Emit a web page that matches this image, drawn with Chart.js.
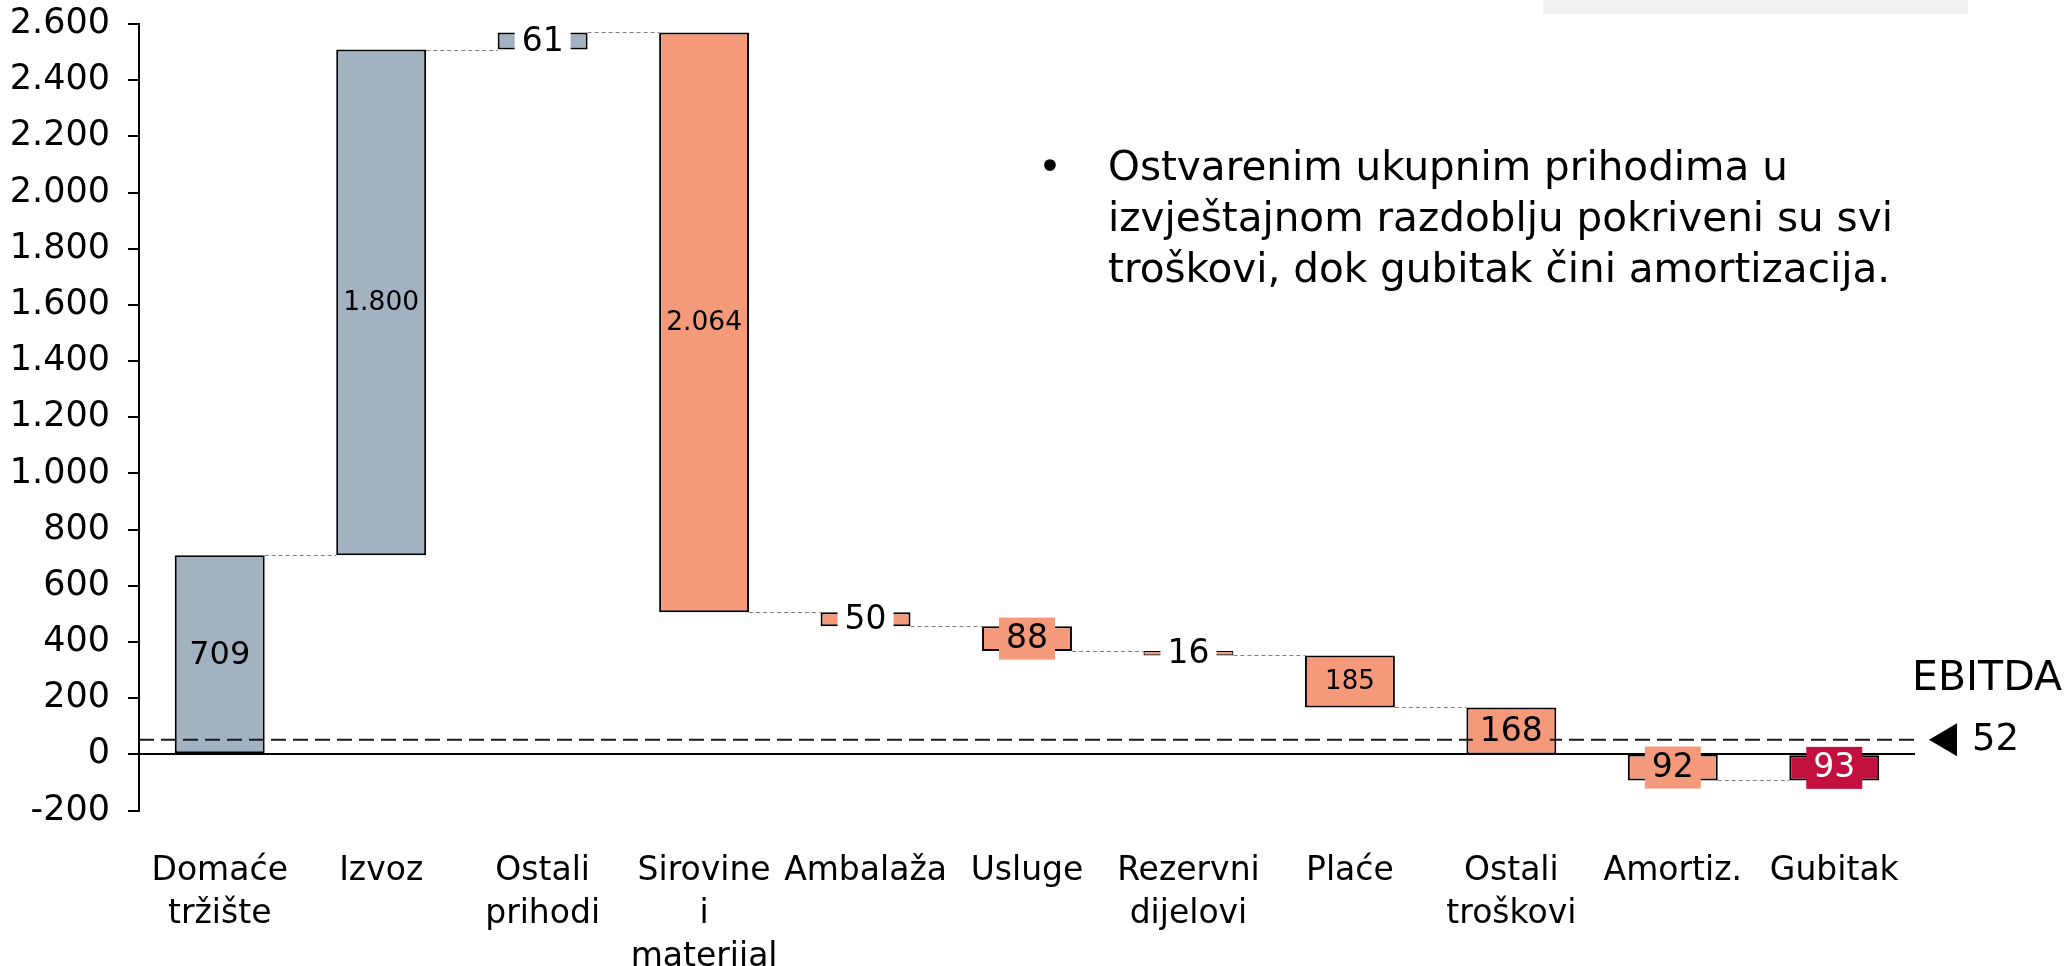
<!DOCTYPE html>
<html>
<head>
<meta charset="utf-8">
<script src="https://cdn.jsdelivr.net/npm/chart.js@4.4.1/dist/chart.umd.min.js"></script>
<style>
    html, body { margin: 0; padding: 0; background: #fff; }
    #wrap { position: relative; width: 2069px; height: 966px; overflow: hidden; }
    #chart { position: absolute; left: 0; top: 0; }
    .topbox { position: absolute; left: 1543px; top: 0; width: 425px; height: 14px; background: #f2f2f2; }
    .bullet, .note { position: absolute; top: 141px; font: 40.5px/51px 'DejaVu Sans', sans-serif; color: #000; white-space: nowrap; }
    .bullet { left: 1038px; }
    .note { left: 1108px; }
</style>
</head>
<body>
<div id="wrap">
    <div class="topbox"></div>
    <canvas id="chart" width="2069" height="966"></canvas>
    <div class="bullet">•</div>
    <div class="note">Ostvarenim ukupnim prihodima u<br>izvještajnom razdoblju pokriveni su svi<br>troškovi, dok gubitak čini amortizacija.</div>
</div>
<script>
// Data
const categories = [
    ['Domaće', 'tržište'], 'Izvoz', ['Ostali', 'prihodi'], ['Sirovine', 'i', 'materijal'],
    'Ambalaža', 'Usluge', ['Rezervni', 'dijelovi'], 'Plaće', ['Ostali', 'troškovi'], 'Amortiz.', 'Gubitak'
];
const changes = [709, 1800, 61, -2064, -50, -88, -16, -185, -168, -92];
const lossTotal = -93;
const valueLabels = ['709', '1.800', '61', '2.064', '50', '88', '16', '185', '168', '92', '93'];
const ebitdaValue = 52;
const yMin = -200;
const yMax = 2600;
const yStep = 200;

// Styling
const FONT = "'DejaVu Sans', sans-serif";
const REV = '#a3b2c1';
const COST = '#f4997a';
const LOSS = '#c20f3d';
const barColors = [REV, REV, REV, COST, COST, COST, COST, COST, COST, COST, LOSS];
const labelSize = [32, 26.5, 33, 26.5, 33, 33, 33, 26, 33, 33, 33];
const labelBg = [null, null, '#fff', null, '#fff', COST, '#fff', null, COST, COST, LOSS];
const labelColor = ['#000', '#000', '#000', '#000', '#000', '#000', '#000', '#000', '#000', '#000', '#fff'];

// Floating ranges for the waterfall
let running = 0;
const ranges = changes.map(d => {
    const r = [running, running + d];
    running += d;
    return r;
});
ranges.push([lossTotal, 0]);

function fmtThousands(v) {
    const s = Math.abs(v).toString().replace(/\B(?=(\d{3})+(?!\d))/g, '.');
    return (v < 0 ? '-' : '') + s;
}

const waterfallExtras = {
    id: 'waterfallExtras',
    afterDatasetsDraw(chart) {
        const ctx = chart.ctx;
        const yScale = chart.scales.y;
        const area = chart.chartArea;
        const bars = chart.getDatasetMeta(0).data;
        const zeroY = yScale.getPixelForValue(0);

        ctx.save();

        // connector lines between bars (skip the one sitting on the zero line)
        ctx.strokeStyle = '#808080';
        ctx.lineWidth = 1.2;
        ctx.setLineDash([4, 3]);
        for (let i = 0; i < bars.length - 1; i++) {
            const level = yScale.getPixelForValue(ranges[i][1]);
            if (Math.abs(level - zeroY) < 2) continue;
            const py = Math.round(level) + 0.5;
            const a = bars[i], b = bars[i + 1];
            ctx.beginPath();
            ctx.moveTo(a.x + a.width / 2, py);
            ctx.lineTo(b.x - b.width / 2, py);
            ctx.stroke();
        }

        // EBITDA dashed line
        const ey = yScale.getPixelForValue(ebitdaValue);
        ctx.strokeStyle = '#1a1a1a';
        ctx.lineWidth = 2;
        ctx.setLineDash([15, 7]);
        ctx.beginPath();
        ctx.moveTo(area.left, ey);
        ctx.lineTo(area.right + 2, ey);
        ctx.stroke();
        ctx.setLineDash([]);

        // marker + annotation
        ctx.fillStyle = '#000';
        ctx.beginPath();
        ctx.moveTo(area.right + 14, ey);
        ctx.lineTo(area.right + 42, ey - 16.5);
        ctx.lineTo(area.right + 42, ey + 16.5);
        ctx.closePath();
        ctx.fill();
        ctx.textAlign = 'left';
        ctx.textBaseline = 'middle';
        ctx.font = '37px ' + FONT;
        ctx.fillText(String(ebitdaValue), area.right + 57, ey + 1);
        ctx.font = '41px ' + FONT;
        ctx.fillText('EBITDA', area.right - 3, ey - 60);

        // value labels
        ctx.textAlign = 'center';
        bars.forEach((bar, i) => {
            const cx = bar.x;
            const cy = (bar.y + bar.base) / 2;
            ctx.font = labelSize[i] + 'px ' + FONT;
            if (labelBg[i]) {
                const tw = ctx.measureText(valueLabels[i]).width;
                const w = tw + 14;
                const h = 42;
                ctx.fillStyle = labelBg[i];
                ctx.fillRect(cx - w / 2, cy - h / 2, w, h);
            }
            ctx.fillStyle = labelColor[i];
            ctx.fillText(valueLabels[i], cx, cy + 1);
        });

        ctx.restore();
    }
};

new Chart(document.getElementById('chart'), {
    type: 'bar',
    data: {
        labels: categories,
        datasets: [{
            data: ranges,
            backgroundColor: barColors,
            borderColor: '#000',
            // thin outline on the very short bars so their fill still shows
            borderWidth: c => {
                const r = ranges[c.dataIndex];
                return Math.abs(r[1] - r[0]) < 30 ? 1.2 : 2;
            },
            borderSkipped: false,
            categoryPercentage: 1,
            barPercentage: 0.557
        }]
    },
    options: {
        responsive: false,
        animation: false,
        layout: { padding: { left: 0, right: 154, top: 24, bottom: 0 } },
        plugins: {
            legend: { display: false },
            tooltip: { enabled: false }
        },
        scales: {
            x: {
                grid: { display: false },
                border: { display: false },
                ticks: {
                    color: '#000',
                    font: { family: FONT, size: 33, lineHeight: 1.3 },
                    padding: 31.5,
                    autoSkip: false,
                    maxRotation: 0,
                    minRotation: 0
                },
                afterFit: s => { s.height = 155.5; }
            },
            y: {
                min: yMin,
                max: yMax,
                ticks: {
                    stepSize: yStep,
                    color: '#000',
                    font: { family: FONT, size: 35 },
                    padding: 18,
                    callback: v => fmtThousands(v)
                },
                grid: {
                    drawOnChartArea: true,
                    color: c => (c.tick && c.tick.value === 0) ? '#000' : 'rgba(0,0,0,0)',
                    lineWidth: 2,
                    tickLength: 11,
                    tickColor: '#000',
                    tickWidth: 2
                },
                border: { display: true, color: '#000', width: 2 },
                afterFit: s => {
                    s.width = 139;
                    s.paddingTop = 0;
                    s.paddingBottom = 0;
                }
            }
        }
    },
    plugins: [waterfallExtras]
});
</script>
</body>
</html>
